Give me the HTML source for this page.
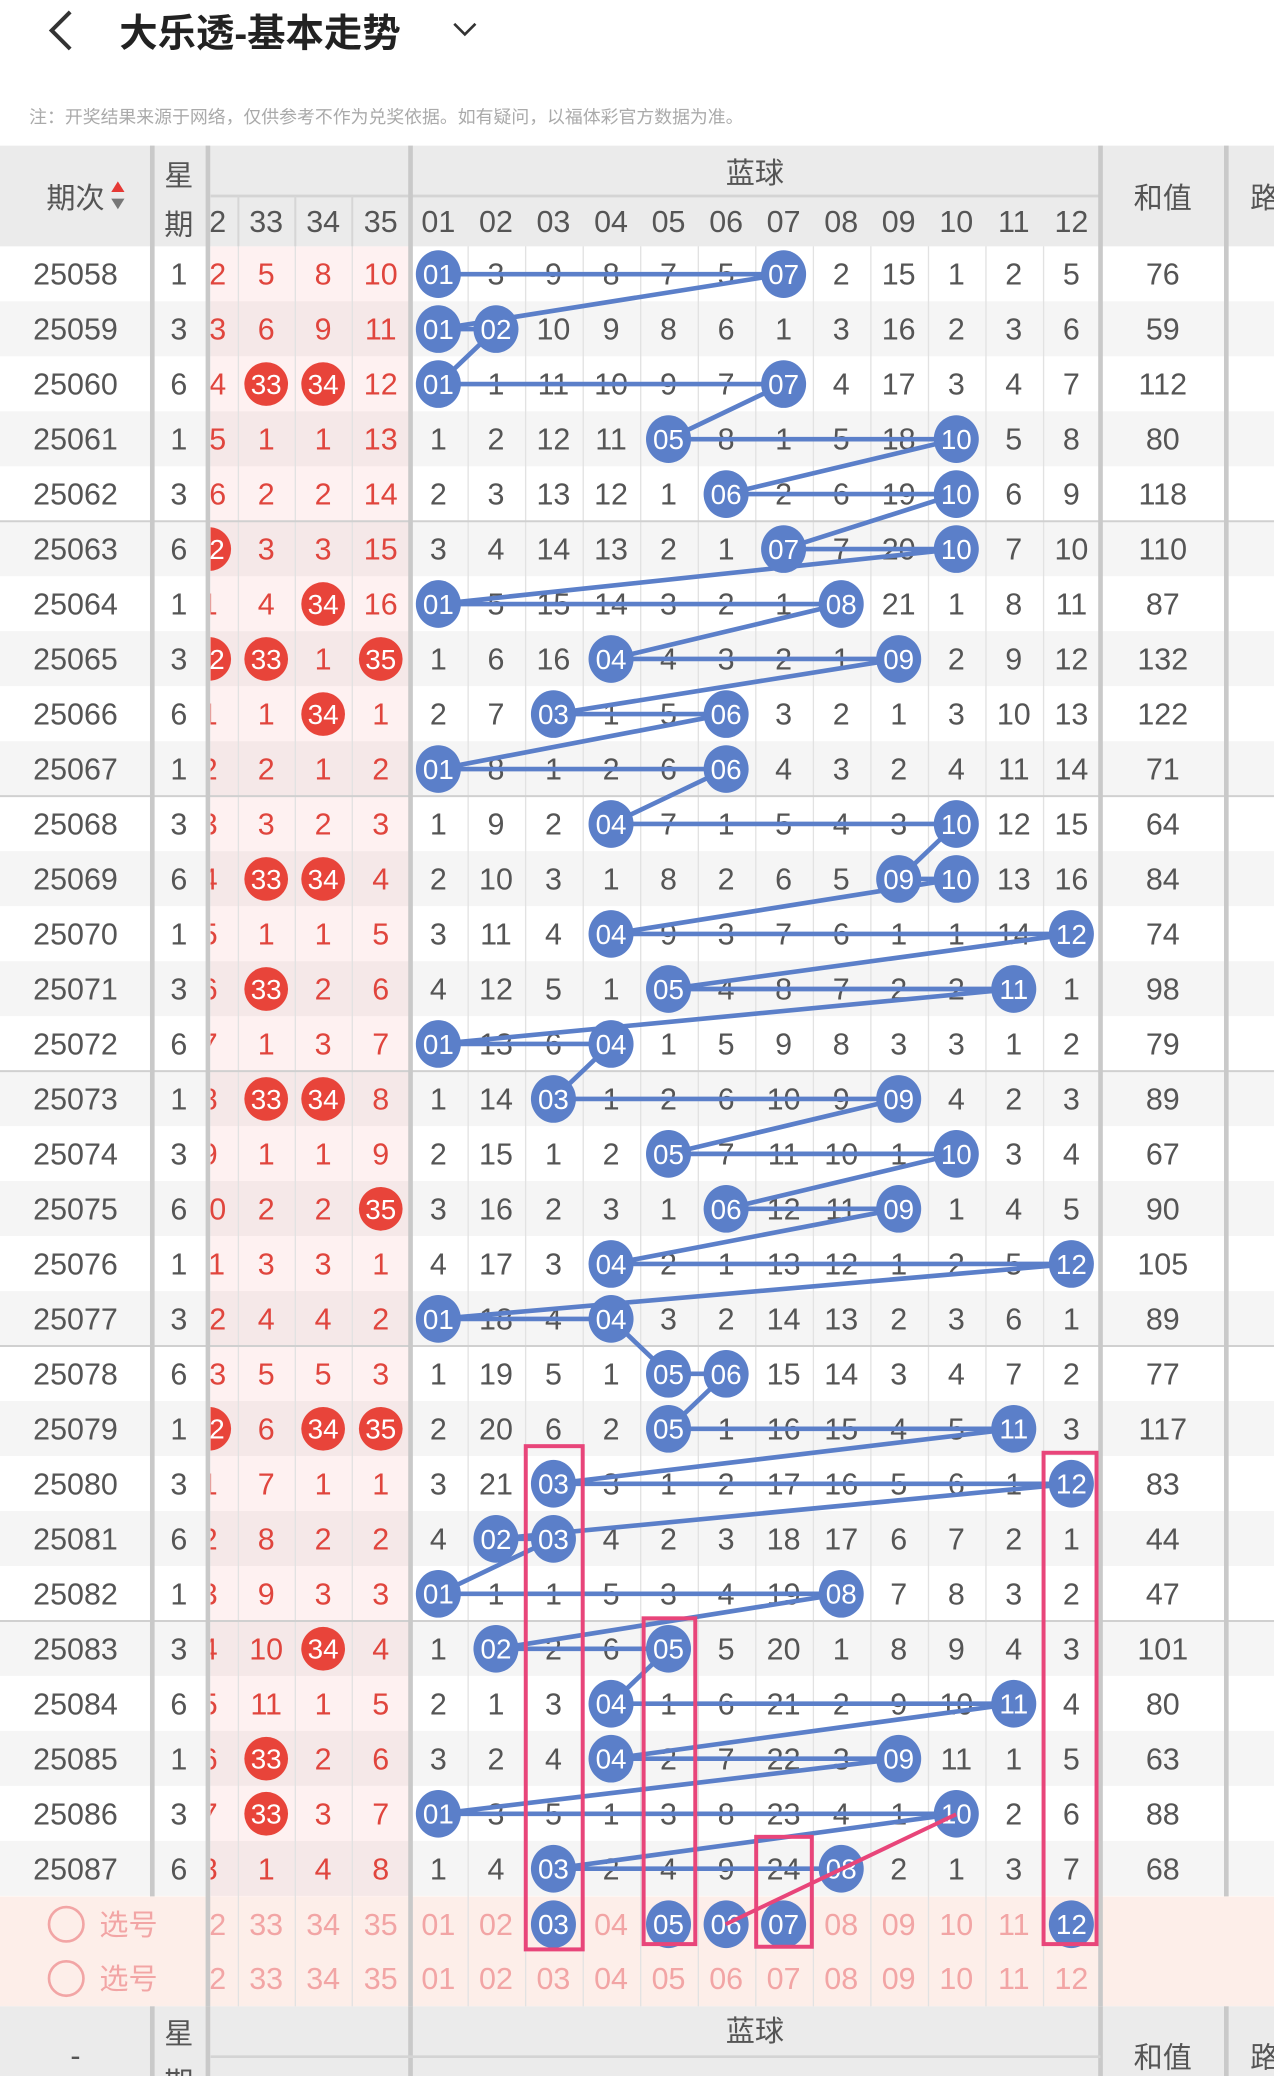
<!DOCTYPE html>
<html><head><meta charset="utf-8"><style>
html,body{margin:0;padding:0;background:#fff;}
svg{display:block}
text{font-family:"Liberation Sans","Noto Sans CJK SC",sans-serif;font-size:23px;text-anchor:middle}
.g{fill:#555}.r{fill:#e0453d}.w{fill:#fff;font-size:21px}.p{fill:#f2a5a5}
.h{fill:#555}
</style></head><body>
<svg width="1274" height="2076" viewBox="0 0 962 1567.6" xmlns="http://www.w3.org/2000/svg">
<defs><clipPath id="rc"><rect x="159" y="0" width="803" height="1568"/></clipPath></defs>
<rect width="962" height="1568" fill="#fff"/>
<!-- title -->
<polyline points="53,9 39,23 53,37" fill="none" stroke="#333" stroke-width="3"/>
<text x="90" y="35" style="text-anchor:start;font-size:29px;font-weight:bold;fill:#222">大乐透-基本走势</text>
<polyline points="343,18 351,26 359,18" fill="none" stroke="#333" stroke-width="2"/>
<text x="22" y="93" style="text-anchor:start;font-size:13.5px;fill:#aaa">注：开奖结果来源于网络，仅供参考不作为兑奖依据。如有疑问，以福体彩官方数据为准。</text>
<!-- row backgrounds -->
<g fill="#f5f5f5">
<rect x="0" y="227.5" width="962" height="41.5"/><rect x="0" y="310.6" width="962" height="41.5"/><rect x="0" y="393.6" width="962" height="41.5"/><rect x="0" y="476.6" width="962" height="41.5"/><rect x="0" y="559.7" width="962" height="41.5"/><rect x="0" y="642.7" width="962" height="41.5"/><rect x="0" y="725.8" width="962" height="41.5"/><rect x="0" y="808.8" width="962" height="41.5"/><rect x="0" y="891.8" width="962" height="41.5"/><rect x="0" y="974.9" width="962" height="41.5"/><rect x="0" y="1057.9" width="962" height="41.5"/><rect x="0" y="1141" width="962" height="41.5"/><rect x="0" y="1224" width="962" height="41.5"/><rect x="0" y="1307" width="962" height="41.5"/><rect x="0" y="1390.1" width="962" height="41.5"/>
</g>
<rect x="159" y="186" width="150" height="1246" fill="#f8b0b0" fill-opacity="0.18"/>
<rect x="0" y="1432" width="962" height="83" fill="#fdeee9"/>
<!-- grid -->
<g stroke="#e2e2e2" stroke-width="1">
<line x1="180" y1="148" x2="180" y2="1515"/><line x1="223" y1="148" x2="223" y2="1515"/><line x1="266" y1="148" x2="266" y2="1515"/>
<line x1="353.5" y1="148" x2="353.5" y2="1515"/><line x1="396.9" y1="148" x2="396.9" y2="1515"/><line x1="440.4" y1="148" x2="440.4" y2="1515"/><line x1="483.8" y1="148" x2="483.8" y2="1515"/><line x1="527.3" y1="148" x2="527.3" y2="1515"/><line x1="570.7" y1="148" x2="570.7" y2="1515"/><line x1="614.2" y1="148" x2="614.2" y2="1515"/><line x1="657.6" y1="148" x2="657.6" y2="1515"/><line x1="701.1" y1="148" x2="701.1" y2="1515"/><line x1="744.5" y1="148" x2="744.5" y2="1515"/><line x1="788" y1="148" x2="788" y2="1515"/>
</g>
<g stroke="#d0d0d0" stroke-width="1.5">
<line x1="0" y1="393.6" x2="962" y2="393.6"/><line x1="0" y1="601.2" x2="962" y2="601.2"/><line x1="0" y1="808.8" x2="962" y2="808.8"/><line x1="0" y1="1016.4" x2="962" y2="1016.4"/><line x1="0" y1="1224" x2="962" y2="1224"/>
</g>
<!-- header -->
<rect x="0" y="110" width="962" height="76" fill="#ebebeb"/>
<line x1="159" y1="148" x2="831" y2="148" stroke="#d4d4d4" stroke-width="2"/>
<g stroke="#d6d6d6" stroke-width="1.5">
<line x1="180" y1="148" x2="180" y2="186"/><line x1="223" y1="148" x2="223" y2="186"/><line x1="266" y1="148" x2="266" y2="186"/>
</g>
<text class="h" x="57" y="157" style="font-size:22px">期次</text>
<polygon points="89,137 94,145 84,145" fill="#e53935"/><polygon points="89,158 94,150 84,150" fill="#777"/>
<text class="h" x="135" y="140" style="font-size:22px">星</text><text class="h" x="135" y="177" style="font-size:22px">期</text>
<text class="h" x="570" y="138" style="font-size:22px">蓝球</text>
<text class="h" x="878" y="157" style="font-size:22px">和值</text>
<text class="h" x="955" y="157" style="font-size:22px">路</text>
<g clip-path="url(#rc)"><text class="h" y="175"><tspan x="158">32</tspan><tspan x="201">33</tspan><tspan x="244">34</tspan><tspan x="287.5">35</tspan><tspan x="331">01</tspan><tspan x="374.5">02</tspan><tspan x="417.9">03</tspan><tspan x="461.4">04</tspan><tspan x="504.8">05</tspan><tspan x="548.3">06</tspan><tspan x="591.7">07</tspan><tspan x="635.2">08</tspan><tspan x="678.6">09</tspan><tspan x="722.1">10</tspan><tspan x="765.5">11</tspan><tspan x="809">12</tspan></text></g>
<!-- dividers -->
<g stroke="#c9c9c9" stroke-width="3.5">
<line x1="115" y1="110" x2="115" y2="1432"/><line x1="157" y1="110" x2="157" y2="1567"/><line x1="310" y1="110" x2="310" y2="1567"/><line x1="831" y1="110" x2="831" y2="1515"/><line x1="926" y1="110" x2="926" y2="1432"/>
<line x1="115" y1="1515" x2="115" y2="1567"/><line x1="831" y1="1515" x2="831" y2="1567"/><line x1="926" y1="1515" x2="926" y2="1567"/>
</g>
<!-- gray numbers -->
<g class="g">
<text y="215"><tspan x="57">25058</tspan><tspan x="135">1</tspan><tspan x="374.5">3</tspan><tspan x="417.9">9</tspan><tspan x="461.4">8</tspan><tspan x="504.8">7</tspan><tspan x="548.3">5</tspan><tspan x="635.2">2</tspan><tspan x="678.6">15</tspan><tspan x="722.1">1</tspan><tspan x="765.5">2</tspan><tspan x="809">5</tspan><tspan x="878">76</tspan></text>
<text y="256.5"><tspan x="57">25059</tspan><tspan x="135">3</tspan><tspan x="417.9">10</tspan><tspan x="461.4">9</tspan><tspan x="504.8">8</tspan><tspan x="548.3">6</tspan><tspan x="591.7">1</tspan><tspan x="635.2">3</tspan><tspan x="678.6">16</tspan><tspan x="722.1">2</tspan><tspan x="765.5">3</tspan><tspan x="809">6</tspan><tspan x="878">59</tspan></text>
<text y="298"><tspan x="57">25060</tspan><tspan x="135">6</tspan><tspan x="374.5">1</tspan><tspan x="417.9">11</tspan><tspan x="461.4">10</tspan><tspan x="504.8">9</tspan><tspan x="548.3">7</tspan><tspan x="635.2">4</tspan><tspan x="678.6">17</tspan><tspan x="722.1">3</tspan><tspan x="765.5">4</tspan><tspan x="809">7</tspan><tspan x="878">112</tspan></text>
<text y="339.6"><tspan x="57">25061</tspan><tspan x="135">1</tspan><tspan x="331">1</tspan><tspan x="374.5">2</tspan><tspan x="417.9">12</tspan><tspan x="461.4">11</tspan><tspan x="548.3">8</tspan><tspan x="591.7">1</tspan><tspan x="635.2">5</tspan><tspan x="678.6">18</tspan><tspan x="765.5">5</tspan><tspan x="809">8</tspan><tspan x="878">80</tspan></text>
<text y="381.1"><tspan x="57">25062</tspan><tspan x="135">3</tspan><tspan x="331">2</tspan><tspan x="374.5">3</tspan><tspan x="417.9">13</tspan><tspan x="461.4">12</tspan><tspan x="504.8">1</tspan><tspan x="591.7">2</tspan><tspan x="635.2">6</tspan><tspan x="678.6">19</tspan><tspan x="765.5">6</tspan><tspan x="809">9</tspan><tspan x="878">118</tspan></text>
<text y="422.6"><tspan x="57">25063</tspan><tspan x="135">6</tspan><tspan x="331">3</tspan><tspan x="374.5">4</tspan><tspan x="417.9">14</tspan><tspan x="461.4">13</tspan><tspan x="504.8">2</tspan><tspan x="548.3">1</tspan><tspan x="635.2">7</tspan><tspan x="678.6">20</tspan><tspan x="765.5">7</tspan><tspan x="809">10</tspan><tspan x="878">110</tspan></text>
<text y="464.1"><tspan x="57">25064</tspan><tspan x="135">1</tspan><tspan x="374.5">5</tspan><tspan x="417.9">15</tspan><tspan x="461.4">14</tspan><tspan x="504.8">3</tspan><tspan x="548.3">2</tspan><tspan x="591.7">1</tspan><tspan x="678.6">21</tspan><tspan x="722.1">1</tspan><tspan x="765.5">8</tspan><tspan x="809">11</tspan><tspan x="878">87</tspan></text>
<text y="505.6"><tspan x="57">25065</tspan><tspan x="135">3</tspan><tspan x="331">1</tspan><tspan x="374.5">6</tspan><tspan x="417.9">16</tspan><tspan x="504.8">4</tspan><tspan x="548.3">3</tspan><tspan x="591.7">2</tspan><tspan x="635.2">1</tspan><tspan x="722.1">2</tspan><tspan x="765.5">9</tspan><tspan x="809">12</tspan><tspan x="878">132</tspan></text>
<text y="547.2"><tspan x="57">25066</tspan><tspan x="135">6</tspan><tspan x="331">2</tspan><tspan x="374.5">7</tspan><tspan x="461.4">1</tspan><tspan x="504.8">5</tspan><tspan x="591.7">3</tspan><tspan x="635.2">2</tspan><tspan x="678.6">1</tspan><tspan x="722.1">3</tspan><tspan x="765.5">10</tspan><tspan x="809">13</tspan><tspan x="878">122</tspan></text>
<text y="588.7"><tspan x="57">25067</tspan><tspan x="135">1</tspan><tspan x="374.5">8</tspan><tspan x="417.9">1</tspan><tspan x="461.4">2</tspan><tspan x="504.8">6</tspan><tspan x="591.7">4</tspan><tspan x="635.2">3</tspan><tspan x="678.6">2</tspan><tspan x="722.1">4</tspan><tspan x="765.5">11</tspan><tspan x="809">14</tspan><tspan x="878">71</tspan></text>
<text y="630.2"><tspan x="57">25068</tspan><tspan x="135">3</tspan><tspan x="331">1</tspan><tspan x="374.5">9</tspan><tspan x="417.9">2</tspan><tspan x="504.8">7</tspan><tspan x="548.3">1</tspan><tspan x="591.7">5</tspan><tspan x="635.2">4</tspan><tspan x="678.6">3</tspan><tspan x="765.5">12</tspan><tspan x="809">15</tspan><tspan x="878">64</tspan></text>
<text y="671.7"><tspan x="57">25069</tspan><tspan x="135">6</tspan><tspan x="331">2</tspan><tspan x="374.5">10</tspan><tspan x="417.9">3</tspan><tspan x="461.4">1</tspan><tspan x="504.8">8</tspan><tspan x="548.3">2</tspan><tspan x="591.7">6</tspan><tspan x="635.2">5</tspan><tspan x="765.5">13</tspan><tspan x="809">16</tspan><tspan x="878">84</tspan></text>
<text y="713.2"><tspan x="57">25070</tspan><tspan x="135">1</tspan><tspan x="331">3</tspan><tspan x="374.5">11</tspan><tspan x="417.9">4</tspan><tspan x="504.8">9</tspan><tspan x="548.3">3</tspan><tspan x="591.7">7</tspan><tspan x="635.2">6</tspan><tspan x="678.6">1</tspan><tspan x="722.1">1</tspan><tspan x="765.5">14</tspan><tspan x="878">74</tspan></text>
<text y="754.8"><tspan x="57">25071</tspan><tspan x="135">3</tspan><tspan x="331">4</tspan><tspan x="374.5">12</tspan><tspan x="417.9">5</tspan><tspan x="461.4">1</tspan><tspan x="548.3">4</tspan><tspan x="591.7">8</tspan><tspan x="635.2">7</tspan><tspan x="678.6">2</tspan><tspan x="722.1">2</tspan><tspan x="809">1</tspan><tspan x="878">98</tspan></text>
<text y="796.3"><tspan x="57">25072</tspan><tspan x="135">6</tspan><tspan x="374.5">13</tspan><tspan x="417.9">6</tspan><tspan x="504.8">1</tspan><tspan x="548.3">5</tspan><tspan x="591.7">9</tspan><tspan x="635.2">8</tspan><tspan x="678.6">3</tspan><tspan x="722.1">3</tspan><tspan x="765.5">1</tspan><tspan x="809">2</tspan><tspan x="878">79</tspan></text>
<text y="837.8"><tspan x="57">25073</tspan><tspan x="135">1</tspan><tspan x="331">1</tspan><tspan x="374.5">14</tspan><tspan x="461.4">1</tspan><tspan x="504.8">2</tspan><tspan x="548.3">6</tspan><tspan x="591.7">10</tspan><tspan x="635.2">9</tspan><tspan x="722.1">4</tspan><tspan x="765.5">2</tspan><tspan x="809">3</tspan><tspan x="878">89</tspan></text>
<text y="879.3"><tspan x="57">25074</tspan><tspan x="135">3</tspan><tspan x="331">2</tspan><tspan x="374.5">15</tspan><tspan x="417.9">1</tspan><tspan x="461.4">2</tspan><tspan x="548.3">7</tspan><tspan x="591.7">11</tspan><tspan x="635.2">10</tspan><tspan x="678.6">1</tspan><tspan x="765.5">3</tspan><tspan x="809">4</tspan><tspan x="878">67</tspan></text>
<text y="920.8"><tspan x="57">25075</tspan><tspan x="135">6</tspan><tspan x="331">3</tspan><tspan x="374.5">16</tspan><tspan x="417.9">2</tspan><tspan x="461.4">3</tspan><tspan x="504.8">1</tspan><tspan x="591.7">12</tspan><tspan x="635.2">11</tspan><tspan x="722.1">1</tspan><tspan x="765.5">4</tspan><tspan x="809">5</tspan><tspan x="878">90</tspan></text>
<text y="962.4"><tspan x="57">25076</tspan><tspan x="135">1</tspan><tspan x="331">4</tspan><tspan x="374.5">17</tspan><tspan x="417.9">3</tspan><tspan x="504.8">2</tspan><tspan x="548.3">1</tspan><tspan x="591.7">13</tspan><tspan x="635.2">12</tspan><tspan x="678.6">1</tspan><tspan x="722.1">2</tspan><tspan x="765.5">5</tspan><tspan x="878">105</tspan></text>
<text y="1003.9"><tspan x="57">25077</tspan><tspan x="135">3</tspan><tspan x="374.5">18</tspan><tspan x="417.9">4</tspan><tspan x="504.8">3</tspan><tspan x="548.3">2</tspan><tspan x="591.7">14</tspan><tspan x="635.2">13</tspan><tspan x="678.6">2</tspan><tspan x="722.1">3</tspan><tspan x="765.5">6</tspan><tspan x="809">1</tspan><tspan x="878">89</tspan></text>
<text y="1045.4"><tspan x="57">25078</tspan><tspan x="135">6</tspan><tspan x="331">1</tspan><tspan x="374.5">19</tspan><tspan x="417.9">5</tspan><tspan x="461.4">1</tspan><tspan x="591.7">15</tspan><tspan x="635.2">14</tspan><tspan x="678.6">3</tspan><tspan x="722.1">4</tspan><tspan x="765.5">7</tspan><tspan x="809">2</tspan><tspan x="878">77</tspan></text>
<text y="1086.9"><tspan x="57">25079</tspan><tspan x="135">1</tspan><tspan x="331">2</tspan><tspan x="374.5">20</tspan><tspan x="417.9">6</tspan><tspan x="461.4">2</tspan><tspan x="548.3">1</tspan><tspan x="591.7">16</tspan><tspan x="635.2">15</tspan><tspan x="678.6">4</tspan><tspan x="722.1">5</tspan><tspan x="809">3</tspan><tspan x="878">117</tspan></text>
<text y="1128.4"><tspan x="57">25080</tspan><tspan x="135">3</tspan><tspan x="331">3</tspan><tspan x="374.5">21</tspan><tspan x="461.4">3</tspan><tspan x="504.8">1</tspan><tspan x="548.3">2</tspan><tspan x="591.7">17</tspan><tspan x="635.2">16</tspan><tspan x="678.6">5</tspan><tspan x="722.1">6</tspan><tspan x="765.5">1</tspan><tspan x="878">83</tspan></text>
<text y="1170"><tspan x="57">25081</tspan><tspan x="135">6</tspan><tspan x="331">4</tspan><tspan x="461.4">4</tspan><tspan x="504.8">2</tspan><tspan x="548.3">3</tspan><tspan x="591.7">18</tspan><tspan x="635.2">17</tspan><tspan x="678.6">6</tspan><tspan x="722.1">7</tspan><tspan x="765.5">2</tspan><tspan x="809">1</tspan><tspan x="878">44</tspan></text>
<text y="1211.5"><tspan x="57">25082</tspan><tspan x="135">1</tspan><tspan x="374.5">1</tspan><tspan x="417.9">1</tspan><tspan x="461.4">5</tspan><tspan x="504.8">3</tspan><tspan x="548.3">4</tspan><tspan x="591.7">19</tspan><tspan x="678.6">7</tspan><tspan x="722.1">8</tspan><tspan x="765.5">3</tspan><tspan x="809">2</tspan><tspan x="878">47</tspan></text>
<text y="1253"><tspan x="57">25083</tspan><tspan x="135">3</tspan><tspan x="331">1</tspan><tspan x="417.9">2</tspan><tspan x="461.4">6</tspan><tspan x="548.3">5</tspan><tspan x="591.7">20</tspan><tspan x="635.2">1</tspan><tspan x="678.6">8</tspan><tspan x="722.1">9</tspan><tspan x="765.5">4</tspan><tspan x="809">3</tspan><tspan x="878">101</tspan></text>
<text y="1294.5"><tspan x="57">25084</tspan><tspan x="135">6</tspan><tspan x="331">2</tspan><tspan x="374.5">1</tspan><tspan x="417.9">3</tspan><tspan x="504.8">1</tspan><tspan x="548.3">6</tspan><tspan x="591.7">21</tspan><tspan x="635.2">2</tspan><tspan x="678.6">9</tspan><tspan x="722.1">10</tspan><tspan x="809">4</tspan><tspan x="878">80</tspan></text>
<text y="1336"><tspan x="57">25085</tspan><tspan x="135">1</tspan><tspan x="331">3</tspan><tspan x="374.5">2</tspan><tspan x="417.9">4</tspan><tspan x="504.8">2</tspan><tspan x="548.3">7</tspan><tspan x="591.7">22</tspan><tspan x="635.2">3</tspan><tspan x="722.1">11</tspan><tspan x="765.5">1</tspan><tspan x="809">5</tspan><tspan x="878">63</tspan></text>
<text y="1377.6"><tspan x="57">25086</tspan><tspan x="135">3</tspan><tspan x="374.5">3</tspan><tspan x="417.9">5</tspan><tspan x="461.4">1</tspan><tspan x="504.8">3</tspan><tspan x="548.3">8</tspan><tspan x="591.7">23</tspan><tspan x="635.2">4</tspan><tspan x="678.6">1</tspan><tspan x="765.5">2</tspan><tspan x="809">6</tspan><tspan x="878">88</tspan></text>
<text y="1419.1"><tspan x="57">25087</tspan><tspan x="135">6</tspan><tspan x="331">1</tspan><tspan x="374.5">4</tspan><tspan x="461.4">2</tspan><tspan x="504.8">4</tspan><tspan x="548.3">9</tspan><tspan x="591.7">24</tspan><tspan x="678.6">2</tspan><tspan x="722.1">1</tspan><tspan x="765.5">3</tspan><tspan x="809">7</tspan><tspan x="878">68</tspan></text>
</g>
<!-- red numbers -->
<g class="r" clip-path="url(#rc)">
<text y="215"><tspan x="158">12</tspan><tspan x="201">5</tspan><tspan x="244">8</tspan><tspan x="287.5">10</tspan></text>
<text y="256.5"><tspan x="158">13</tspan><tspan x="201">6</tspan><tspan x="244">9</tspan><tspan x="287.5">11</tspan></text>
<text y="298"><tspan x="158">14</tspan><tspan x="287.5">12</tspan></text>
<text y="339.6"><tspan x="158">15</tspan><tspan x="201">1</tspan><tspan x="244">1</tspan><tspan x="287.5">13</tspan></text>
<text y="381.1"><tspan x="158">16</tspan><tspan x="201">2</tspan><tspan x="244">2</tspan><tspan x="287.5">14</tspan></text>
<text y="422.6"><tspan x="201">3</tspan><tspan x="244">3</tspan><tspan x="287.5">15</tspan></text>
<text y="464.1"><tspan x="158">1</tspan><tspan x="201">4</tspan><tspan x="287.5">16</tspan></text>
<text y="505.6"><tspan x="244">1</tspan></text>
<text y="547.2"><tspan x="158">1</tspan><tspan x="201">1</tspan><tspan x="287.5">1</tspan></text>
<text y="588.7"><tspan x="158">2</tspan><tspan x="201">2</tspan><tspan x="244">1</tspan><tspan x="287.5">2</tspan></text>
<text y="630.2"><tspan x="158">3</tspan><tspan x="201">3</tspan><tspan x="244">2</tspan><tspan x="287.5">3</tspan></text>
<text y="671.7"><tspan x="158">4</tspan><tspan x="287.5">4</tspan></text>
<text y="713.2"><tspan x="158">5</tspan><tspan x="201">1</tspan><tspan x="244">1</tspan><tspan x="287.5">5</tspan></text>
<text y="754.8"><tspan x="158">6</tspan><tspan x="244">2</tspan><tspan x="287.5">6</tspan></text>
<text y="796.3"><tspan x="158">7</tspan><tspan x="201">1</tspan><tspan x="244">3</tspan><tspan x="287.5">7</tspan></text>
<text y="837.8"><tspan x="158">8</tspan><tspan x="287.5">8</tspan></text>
<text y="879.3"><tspan x="158">9</tspan><tspan x="201">1</tspan><tspan x="244">1</tspan><tspan x="287.5">9</tspan></text>
<text y="920.8"><tspan x="158">10</tspan><tspan x="201">2</tspan><tspan x="244">2</tspan></text>
<text y="962.4"><tspan x="158">11</tspan><tspan x="201">3</tspan><tspan x="244">3</tspan><tspan x="287.5">1</tspan></text>
<text y="1003.9"><tspan x="158">12</tspan><tspan x="201">4</tspan><tspan x="244">4</tspan><tspan x="287.5">2</tspan></text>
<text y="1045.4"><tspan x="158">13</tspan><tspan x="201">5</tspan><tspan x="244">5</tspan><tspan x="287.5">3</tspan></text>
<text y="1086.9"><tspan x="201">6</tspan></text>
<text y="1128.4"><tspan x="158">1</tspan><tspan x="201">7</tspan><tspan x="244">1</tspan><tspan x="287.5">1</tspan></text>
<text y="1170"><tspan x="158">2</tspan><tspan x="201">8</tspan><tspan x="244">2</tspan><tspan x="287.5">2</tspan></text>
<text y="1211.5"><tspan x="158">3</tspan><tspan x="201">9</tspan><tspan x="244">3</tspan><tspan x="287.5">3</tspan></text>
<text y="1253"><tspan x="158">4</tspan><tspan x="201">10</tspan><tspan x="287.5">4</tspan></text>
<text y="1294.5"><tspan x="158">5</tspan><tspan x="201">11</tspan><tspan x="244">1</tspan><tspan x="287.5">5</tspan></text>
<text y="1336"><tspan x="158">6</tspan><tspan x="244">2</tspan><tspan x="287.5">6</tspan></text>
<text y="1377.6"><tspan x="158">7</tspan><tspan x="244">3</tspan><tspan x="287.5">7</tspan></text>
<text y="1419.1"><tspan x="158">8</tspan><tspan x="201">1</tspan><tspan x="244">4</tspan><tspan x="287.5">8</tspan></text>
</g>
<!-- red balls -->
<g clip-path="url(#rc)">
<g fill="#e8443a">
<circle cx="201" cy="290" r="16.5"/><circle cx="244" cy="290" r="16.5"/><circle cx="158" cy="414.6" r="16.5"/><circle cx="244" cy="456.1" r="16.5"/><circle cx="158" cy="497.6" r="16.5"/><circle cx="201" cy="497.6" r="16.5"/><circle cx="287.5" cy="497.6" r="16.5"/><circle cx="244" cy="539.2" r="16.5"/><circle cx="201" cy="663.7" r="16.5"/><circle cx="244" cy="663.7" r="16.5"/><circle cx="201" cy="746.8" r="16.5"/><circle cx="201" cy="829.8" r="16.5"/><circle cx="244" cy="829.8" r="16.5"/><circle cx="287.5" cy="912.8" r="16.5"/><circle cx="158" cy="1078.9" r="16.5"/><circle cx="244" cy="1078.9" r="16.5"/><circle cx="287.5" cy="1078.9" r="16.5"/><circle cx="244" cy="1245" r="16.5"/><circle cx="201" cy="1328" r="16.5"/><circle cx="201" cy="1369.6" r="16.5"/>
</g>
<g class="w">
<text x="201" y="297.5" class="w">33</text><text x="244" y="297.5" class="w">34</text><text x="158" y="422" class="w">32</text><text x="244" y="463.6" class="w">34</text><text x="158" y="505" class="w">32</text><text x="201" y="505" class="w">33</text><text x="287.5" y="505" class="w">35</text><text x="244" y="546.7" class="w">34</text><text x="201" y="671.2" class="w">33</text><text x="244" y="671.2" class="w">34</text><text x="201" y="754.3" class="w">33</text><text x="201" y="837.3" class="w">33</text><text x="244" y="837.3" class="w">34</text><text x="287.5" y="920.3" class="w">35</text><text x="158" y="1086.4" class="w">32</text><text x="244" y="1086.4" class="w">34</text><text x="287.5" y="1086.4" class="w">35</text><text x="244" y="1252.5" class="w">34</text><text x="201" y="1335.5" class="w">33</text><text x="201" y="1377.1" class="w">33</text>
</g>
</g>
<!-- blue line -->
<polyline fill="none" stroke="#5b7fc9" stroke-width="3.5" stroke-linejoin="round" points="331,207 591.7,207 331,248.5 374.5,248.5 331,290 591.7,290 504.8,331.6 722.1,331.6 548.3,373.1 722.1,373.1 591.7,414.6 722.1,414.6 331,456.1 635.2,456.1 461.4,497.6 678.6,497.6 417.9,539.2 548.3,539.2 331,580.7 548.3,580.7 461.4,622.2 722.1,622.2 678.6,663.7 722.1,663.7 461.4,705.2 809,705.2 504.8,746.8 765.5,746.8 331,788.3 461.4,788.3 417.9,829.8 678.6,829.8 504.8,871.3 722.1,871.3 548.3,912.8 678.6,912.8 461.4,954.4 809,954.4 331,995.9 461.4,995.9 504.8,1037.4 548.3,1037.4 504.8,1078.9 765.5,1078.9 417.9,1120.4 809,1120.4 374.5,1162 417.9,1162 331,1203.5 635.2,1203.5 374.5,1245 504.8,1245 461.4,1286.5 765.5,1286.5 461.4,1328 678.6,1328 331,1369.6 722.1,1369.6 417.9,1411.1 635.2,1411.1"/>
<!-- blue balls -->
<g fill="#5b7fc9">
<ellipse cx="331" cy="207" rx="17" ry="18"/><ellipse cx="591.7" cy="207" rx="17" ry="18"/>
<ellipse cx="331" cy="248.5" rx="17" ry="18"/><ellipse cx="374.5" cy="248.5" rx="17" ry="18"/>
<ellipse cx="331" cy="290" rx="17" ry="18"/><ellipse cx="591.7" cy="290" rx="17" ry="18"/>
<ellipse cx="504.8" cy="331.6" rx="17" ry="18"/><ellipse cx="722.1" cy="331.6" rx="17" ry="18"/>
<ellipse cx="548.3" cy="373.1" rx="17" ry="18"/><ellipse cx="722.1" cy="373.1" rx="17" ry="18"/>
<ellipse cx="591.7" cy="414.6" rx="17" ry="18"/><ellipse cx="722.1" cy="414.6" rx="17" ry="18"/>
<ellipse cx="331" cy="456.1" rx="17" ry="18"/><ellipse cx="635.2" cy="456.1" rx="17" ry="18"/>
<ellipse cx="461.4" cy="497.6" rx="17" ry="18"/><ellipse cx="678.6" cy="497.6" rx="17" ry="18"/>
<ellipse cx="417.9" cy="539.2" rx="17" ry="18"/><ellipse cx="548.3" cy="539.2" rx="17" ry="18"/>
<ellipse cx="331" cy="580.7" rx="17" ry="18"/><ellipse cx="548.3" cy="580.7" rx="17" ry="18"/>
<ellipse cx="461.4" cy="622.2" rx="17" ry="18"/><ellipse cx="722.1" cy="622.2" rx="17" ry="18"/>
<ellipse cx="678.6" cy="663.7" rx="17" ry="18"/><ellipse cx="722.1" cy="663.7" rx="17" ry="18"/>
<ellipse cx="461.4" cy="705.2" rx="17" ry="18"/><ellipse cx="809" cy="705.2" rx="17" ry="18"/>
<ellipse cx="504.8" cy="746.8" rx="17" ry="18"/><ellipse cx="765.5" cy="746.8" rx="17" ry="18"/>
<ellipse cx="331" cy="788.3" rx="17" ry="18"/><ellipse cx="461.4" cy="788.3" rx="17" ry="18"/>
<ellipse cx="417.9" cy="829.8" rx="17" ry="18"/><ellipse cx="678.6" cy="829.8" rx="17" ry="18"/>
<ellipse cx="504.8" cy="871.3" rx="17" ry="18"/><ellipse cx="722.1" cy="871.3" rx="17" ry="18"/>
<ellipse cx="548.3" cy="912.8" rx="17" ry="18"/><ellipse cx="678.6" cy="912.8" rx="17" ry="18"/>
<ellipse cx="461.4" cy="954.4" rx="17" ry="18"/><ellipse cx="809" cy="954.4" rx="17" ry="18"/>
<ellipse cx="331" cy="995.9" rx="17" ry="18"/><ellipse cx="461.4" cy="995.9" rx="17" ry="18"/>
<ellipse cx="504.8" cy="1037.4" rx="17" ry="18"/><ellipse cx="548.3" cy="1037.4" rx="17" ry="18"/>
<ellipse cx="504.8" cy="1078.9" rx="17" ry="18"/><ellipse cx="765.5" cy="1078.9" rx="17" ry="18"/>
<ellipse cx="417.9" cy="1120.4" rx="17" ry="18"/><ellipse cx="809" cy="1120.4" rx="17" ry="18"/>
<ellipse cx="374.5" cy="1162" rx="17" ry="18"/><ellipse cx="417.9" cy="1162" rx="17" ry="18"/>
<ellipse cx="331" cy="1203.5" rx="17" ry="18"/><ellipse cx="635.2" cy="1203.5" rx="17" ry="18"/>
<ellipse cx="374.5" cy="1245" rx="17" ry="18"/><ellipse cx="504.8" cy="1245" rx="17" ry="18"/>
<ellipse cx="461.4" cy="1286.5" rx="17" ry="18"/><ellipse cx="765.5" cy="1286.5" rx="17" ry="18"/>
<ellipse cx="461.4" cy="1328" rx="17" ry="18"/><ellipse cx="678.6" cy="1328" rx="17" ry="18"/>
<ellipse cx="331" cy="1369.6" rx="17" ry="18"/><ellipse cx="722.1" cy="1369.6" rx="17" ry="18"/>
<ellipse cx="417.9" cy="1411.1" rx="17" ry="18"/><ellipse cx="635.2" cy="1411.1" rx="17" ry="18"/>
<ellipse cx="417.9" cy="1453" rx="17" ry="18"/><ellipse cx="504.8" cy="1453" rx="17" ry="18"/><ellipse cx="548.3" cy="1453" rx="17" ry="18"/><ellipse cx="591.7" cy="1453" rx="17" ry="18"/><ellipse cx="809" cy="1453" rx="17" ry="18"/>
</g>
<g class="w">
<text class="w" y="214.5"><tspan x="331">01</tspan><tspan x="591.7">07</tspan></text>
<text class="w" y="256"><tspan x="331">01</tspan><tspan x="374.5">02</tspan></text>
<text class="w" y="297.5"><tspan x="331">01</tspan><tspan x="591.7">07</tspan></text>
<text class="w" y="339.1"><tspan x="504.8">05</tspan><tspan x="722.1">10</tspan></text>
<text class="w" y="380.6"><tspan x="548.3">06</tspan><tspan x="722.1">10</tspan></text>
<text class="w" y="422.1"><tspan x="591.7">07</tspan><tspan x="722.1">10</tspan></text>
<text class="w" y="463.6"><tspan x="331">01</tspan><tspan x="635.2">08</tspan></text>
<text class="w" y="505.1"><tspan x="461.4">04</tspan><tspan x="678.6">09</tspan></text>
<text class="w" y="546.7"><tspan x="417.9">03</tspan><tspan x="548.3">06</tspan></text>
<text class="w" y="588.2"><tspan x="331">01</tspan><tspan x="548.3">06</tspan></text>
<text class="w" y="629.7"><tspan x="461.4">04</tspan><tspan x="722.1">10</tspan></text>
<text class="w" y="671.2"><tspan x="678.6">09</tspan><tspan x="722.1">10</tspan></text>
<text class="w" y="712.7"><tspan x="461.4">04</tspan><tspan x="809">12</tspan></text>
<text class="w" y="754.3"><tspan x="504.8">05</tspan><tspan x="765.5">11</tspan></text>
<text class="w" y="795.8"><tspan x="331">01</tspan><tspan x="461.4">04</tspan></text>
<text class="w" y="837.3"><tspan x="417.9">03</tspan><tspan x="678.6">09</tspan></text>
<text class="w" y="878.8"><tspan x="504.8">05</tspan><tspan x="722.1">10</tspan></text>
<text class="w" y="920.3"><tspan x="548.3">06</tspan><tspan x="678.6">09</tspan></text>
<text class="w" y="961.9"><tspan x="461.4">04</tspan><tspan x="809">12</tspan></text>
<text class="w" y="1003.4"><tspan x="331">01</tspan><tspan x="461.4">04</tspan></text>
<text class="w" y="1044.9"><tspan x="504.8">05</tspan><tspan x="548.3">06</tspan></text>
<text class="w" y="1086.4"><tspan x="504.8">05</tspan><tspan x="765.5">11</tspan></text>
<text class="w" y="1127.9"><tspan x="417.9">03</tspan><tspan x="809">12</tspan></text>
<text class="w" y="1169.5"><tspan x="374.5">02</tspan><tspan x="417.9">03</tspan></text>
<text class="w" y="1211"><tspan x="331">01</tspan><tspan x="635.2">08</tspan></text>
<text class="w" y="1252.5"><tspan x="374.5">02</tspan><tspan x="504.8">05</tspan></text>
<text class="w" y="1294"><tspan x="461.4">04</tspan><tspan x="765.5">11</tspan></text>
<text class="w" y="1335.5"><tspan x="461.4">04</tspan><tspan x="678.6">09</tspan></text>
<text class="w" y="1377.1"><tspan x="331">01</tspan><tspan x="722.1">10</tspan></text>
<text class="w" y="1418.6"><tspan x="417.9">03</tspan><tspan x="635.2">08</tspan></text>
<text class="w" y="1460.5"><tspan x="417.9">03</tspan><tspan x="504.8">05</tspan><tspan x="548.3">06</tspan><tspan x="591.7">07</tspan><tspan x="809">12</tspan></text>
</g>
<!-- 选号 rows -->
<g fill="none" stroke="#f2a5a5" stroke-width="2"><circle cx="50" cy="1453" r="13"/><circle cx="50" cy="1494" r="13"/></g>
<text class="p" x="75" y="1461" style="text-anchor:start;font-size:22px">选号</text>
<text class="p" x="75" y="1502" style="text-anchor:start;font-size:22px">选号</text>
<g class="p" clip-path="url(#rc)">
<text y="1461"><tspan x="158">32</tspan><tspan x="201">33</tspan><tspan x="244">34</tspan><tspan x="287.5">35</tspan><tspan x="331">01</tspan><tspan x="374.5">02</tspan><tspan x="461.4">04</tspan><tspan x="635.2">08</tspan><tspan x="678.6">09</tspan><tspan x="722.1">10</tspan><tspan x="765.5">11</tspan></text>
<text y="1502"><tspan x="158">32</tspan><tspan x="201">33</tspan><tspan x="244">34</tspan><tspan x="287.5">35</tspan><tspan x="331">01</tspan><tspan x="374.5">02</tspan><tspan x="417.9">03</tspan><tspan x="461.4">04</tspan><tspan x="504.8">05</tspan><tspan x="548.3">06</tspan><tspan x="591.7">07</tspan><tspan x="635.2">08</tspan><tspan x="678.6">09</tspan><tspan x="722.1">10</tspan><tspan x="765.5">11</tspan><tspan x="809">12</tspan></text>
</g>
<!-- pink marks -->
<g fill="none" stroke="#e8457a" stroke-width="3">
<rect x="397" y="1092" width="43" height="380"/>
<rect x="486" y="1222" width="39" height="246"/>
<rect x="571" y="1387" width="42" height="83"/>
<rect x="788" y="1097" width="40" height="371"/>
<line x1="722" y1="1370" x2="548" y2="1453"/>
</g>
<!-- bottom header -->
<rect x="0" y="1515" width="962" height="53" fill="#ebebeb"/>
<g stroke="#c9c9c9" stroke-width="3.5"><line x1="115" y1="1515" x2="115" y2="1568"/><line x1="157" y1="1515" x2="157" y2="1568"/><line x1="310" y1="1515" x2="310" y2="1568"/><line x1="831" y1="1515" x2="831" y2="1568"/><line x1="926" y1="1515" x2="926" y2="1568"/></g>
<line x1="159" y1="1553" x2="831" y2="1553" stroke="#d4d4d4" stroke-width="2"/>
<text class="h" x="57" y="1560">-</text>
<text class="h" x="135" y="1543" style="font-size:22px">星</text>
<text class="h" x="135" y="1580" style="font-size:22px">期</text>
<text class="h" x="570" y="1541" style="font-size:22px">蓝球</text>
<text class="h" x="878" y="1561" style="font-size:22px">和值</text>
<text class="h" x="955" y="1561" style="font-size:22px">路</text>
</svg>
</body></html>
